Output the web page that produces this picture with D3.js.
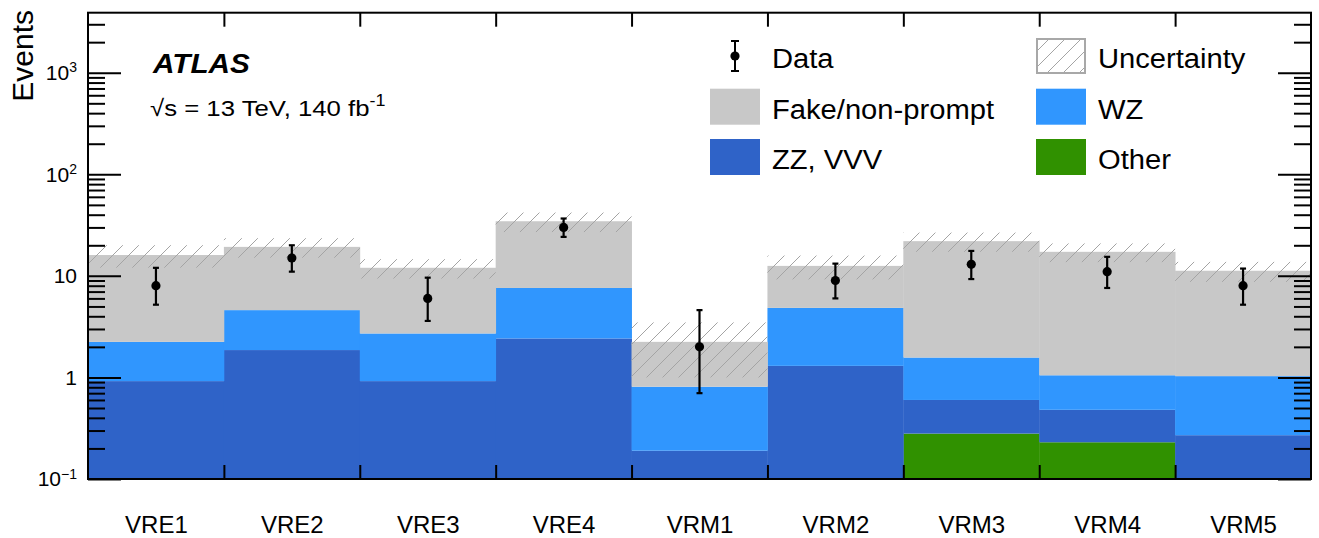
<!DOCTYPE html>
<html>
<head>
<meta charset="utf-8">
<script src="https://cdn.jsdelivr.net/npm/d3@7"></script>
<style>
body { margin: 0; background: #fff; }
text { font-family: "Liberation Sans", Arial, Helvetica, sans-serif; }
</style>
</head>
<body>
<script>
// regions and stacked backgrounds (events per region)
const categories = ["VRE1", "VRE2", "VRE3", "VRE4", "VRM1", "VRM2", "VRM3", "VRM4", "VRM5"];
const other = [0, 0, 0, 0, 0, 0, 0.28, 0.23, 0];
const zzvvv = [0.92, 1.86, 0.92, 2.42, 0.19, 1.30, 0.32, 0.25, 0.27];
const wz = [1.32, 2.74, 1.79, 5.18, 0.62, 3.54, 0.97, 0.57, 0.76];
const fake = [13.8, 14.7, 9.3, 26.9, 1.43, 7.7, 20.4, 16.2, 10.2];
const unc = [4.0, 4.2, 2.6, 7.5, 1.24, 3.3, 4.7, 3.6, 2.5];

// observed data with error bar ends
const data = [8, 15, 6, 30, 2, 9, 13, 11, 8];
const dataHi = [12.0, 20.0, 9.6, 36.7, 4.6, 13.2, 17.6, 15.4, 11.8];
const dataLo = [5.2, 11.0, 3.6, 24.2, 0.7, 6.0, 9.3, 7.6, 5.2];

// y ticks
const majorTicks = [0.1, 1, 10, 100, 1000];
const minorTicks = [0.2, 0.3, 0.4, 0.5, 0.6, 0.7, 0.8, 0.9,
                    2, 3, 4, 5, 6, 7, 8, 9,
                    20, 30, 40, 50, 60, 70, 80, 90,
                    200, 300, 400, 500, 600, 700, 800, 900,
                    2000, 3000];
const yTickLabels = {0.1: ["10", "\u22121"], 1: ["1", ""], 10: ["10", ""], 100: ["10", "2"], 1000: ["10", "3"]};

let width = 1319,
    height = 538;
let pLeft = 88, pRight = 1311, pTop = 12.7, pBottom = 479;

let svg = d3.select("body")
    .append("svg")
    .attr("width", width)
    .attr("height", height);

let x = d3.scaleLinear().domain([0, categories.length]).range([pLeft, pRight]);
let y = d3.scaleLog().domain([0.1, 3900]).range([pBottom, pTop]).clamp(true);
let yv = v => y(Math.max(v, 0.1));

// hatch pattern for the uncertainty band
let pat = svg.append("defs").append("pattern")
    .attr("id", "hatch")
    .attr("patternUnits", "userSpaceOnUse")
    .attr("width", 16)
    .attr("height", 16);
pat.append("path")
    .attr("d", "M0,16 L16,0 M-4,4 L4,-4 M12,20 L20,12")
    .attr("stroke", "#a4a4a4")
    .attr("stroke-width", 1);

// stacked histogram
let rows = categories.map((c, i) => ({other: other[i], zz: zzvvv[i], wz: wz[i], fake: fake[i]}));
let stacked = d3.stack().keys(["other", "zz", "wz", "fake"])(rows);
let colors = {other: "#309100", zz: "#2f63c8", wz: "#3096fe", fake: "#c8c8c8"};

svg.append("g")
    .selectAll("g")
    .data(stacked)
    .join("g")
    .attr("fill", d => colors[d.key])
    .selectAll("rect")
    .data(d => d)
    .join("rect")
    .attr("x", (d, i) => x(i))
    .attr("width", x(1) - x(0) + 0.4)
    .attr("y", d => yv(d[1]))
    .attr("height", d => yv(d[0]) - yv(d[1]));

// uncertainty band
let totals = rows.map(r => r.other + r.zz + r.wz + r.fake);
svg.append("g")
    .selectAll("rect")
    .data(totals)
    .join("rect")
    .attr("x", (d, i) => x(i))
    .attr("width", x(1) - x(0))
    .attr("y", (d, i) => yv(d + unc[i]))
    .attr("height", (d, i) => yv(d - unc[i]) - yv(d + unc[i]))
    .attr("fill", "url(#hatch)");

// data points
let pts = svg.append("g");
pts.selectAll("line.bar")
    .data(data)
    .join("line")
    .attr("class", "bar")
    .attr("x1", (d, i) => x(i + 0.5))
    .attr("x2", (d, i) => x(i + 0.5))
    .attr("y1", (d, i) => yv(dataHi[i]))
    .attr("y2", (d, i) => yv(dataLo[i]))
    .attr("stroke", "black")
    .attr("stroke-width", 2.2);
[dataHi, dataLo].forEach(arr => {
    pts.append("g")
        .selectAll("line")
        .data(arr)
        .join("line")
        .attr("x1", (d, i) => x(i + 0.5) - 3)
        .attr("x2", (d, i) => x(i + 0.5) + 3)
        .attr("y1", d => yv(d))
        .attr("y2", d => yv(d))
        .attr("stroke", "black")
        .attr("stroke-width", 2.2);
});
pts.selectAll("circle")
    .data(data)
    .join("circle")
    .attr("cx", (d, i) => x(i + 0.5))
    .attr("cy", d => yv(d))
    .attr("r", 4.6)
    .attr("fill", "black");

// axes
function styleAxis(g) {
    g.select(".domain").remove();
    g.selectAll(".tick line").attr("stroke", "black").attr("stroke-width", 2);
}

let gyl = svg.append("g")
    .attr("transform", `translate(${pLeft},0)`)
    .call(d3.axisLeft(y).tickValues(majorTicks).tickSize(-33).tickPadding(11))
    .call(styleAxis)
    .attr("font-size", 21);
gyl.selectAll(".tick text")
    .attr("fill", "black")
    .each(function(d) {
        let t = d3.select(this);
        let lab = yTickLabels[d];
        t.text(lab[0]);
        if (lab[1]) {
            t.append("tspan").attr("dy", "-0.55em").attr("font-size", 14).text(lab[1]);
        }
    });
svg.append("g")
    .attr("transform", `translate(${pLeft},0)`)
    .call(d3.axisLeft(y).tickValues(minorTicks).tickSize(-17).tickFormat(""))
    .call(styleAxis);
svg.append("g")
    .attr("transform", `translate(${pRight},0)`)
    .call(d3.axisRight(y).tickValues(majorTicks).tickSize(-33).tickFormat(""))
    .call(styleAxis);
svg.append("g")
    .attr("transform", `translate(${pRight},0)`)
    .call(d3.axisRight(y).tickValues(minorTicks).tickSize(-17).tickFormat(""))
    .call(styleAxis);

let edges = d3.range(1, categories.length);
svg.append("g")
    .attr("transform", `translate(0,${pBottom})`)
    .call(d3.axisBottom(x).tickValues(edges).tickSize(-14).tickFormat(""))
    .call(styleAxis);
svg.append("g")
    .attr("transform", `translate(0,${pTop})`)
    .call(d3.axisTop(x).tickValues(edges).tickSize(-14).tickFormat(""))
    .call(styleAxis);
svg.append("g")
    .attr("transform", `translate(0,${pBottom})`)
    .call(d3.axisBottom(x).tickValues(categories.map((c, i) => i + 0.5)).tickSize(0).tickPadding(37)
        .tickFormat(d => categories[Math.floor(d)]))
    .call(styleAxis)
    .attr("font-size", 24)
    .selectAll("text").attr("fill", "black");

// frame
svg.append("rect")
    .attr("x", pLeft)
    .attr("y", pTop)
    .attr("width", pRight - pLeft)
    .attr("height", pBottom - pTop)
    .attr("fill", "none")
    .attr("stroke", "black")
    .attr("stroke-width", 2);

// axis title
svg.append("text")
    .attr("transform", "translate(33,10) rotate(-90)")
    .attr("text-anchor", "end")
    .attr("font-size", 30)
    .text("Events");

// labels (stretched slightly like the original)
function label(x0, y0, sx, size, str) {
    return svg.append("text")
        .attr("transform", `translate(${x0},${y0}) scale(${sx},1)`)
        .attr("font-size", size)
        .text(str);
}
label(153, 73, 1.1, 27, "ATLAS")
    .attr("font-weight", "bold")
    .attr("font-style", "italic");
let lumi = label(150, 116, 1.12, 23, "\u221As = 13 TeV, 140 fb");
lumi.append("tspan").attr("dy", -10).attr("font-size", 16).text("-1");

// legend
let legendItems = [
    {name: "Data", type: "data", col: 0, row: 0},
    {name: "Uncertainty", type: "unc", col: 1, row: 0},
    {name: "Fake/non-prompt", type: "box", fill: colors.fake, col: 0, row: 1},
    {name: "WZ", type: "box", fill: colors.wz, col: 1, row: 1},
    {name: "ZZ, VVV", type: "box", fill: colors.zz, col: 0, row: 2},
    {name: "Other", type: "box", fill: colors.other, col: 1, row: 2}
];
let colX = [710, 1036], rowY = [56, 106.7, 157];

legendItems.forEach(it => {
    let bx = colX[it.col], cy = rowY[it.row];
    if (it.type == "data") {
        let cx = bx + 25;
        svg.append("line").attr("x1", cx).attr("x2", cx).attr("y1", cy - 15).attr("y2", cy + 15)
            .attr("stroke", "black").attr("stroke-width", 2);
        [cy - 15, cy + 15].forEach(yy => {
            svg.append("line").attr("x1", cx - 4).attr("x2", cx + 4).attr("y1", yy).attr("y2", yy)
                .attr("stroke", "black").attr("stroke-width", 2);
        });
        svg.append("circle").attr("cx", cx).attr("cy", cy).attr("r", 4.6).attr("fill", "black");
    } else if (it.type == "unc") {
        svg.append("rect").attr("x", bx + 1).attr("y", cy - 17).attr("width", 48).attr("height", 34)
            .attr("fill", "url(#hatch)").attr("stroke", "#a8a8a8").attr("stroke-width", 2);
    } else {
        svg.append("rect").attr("x", bx).attr("y", cy - 18).attr("width", 50).attr("height", 36)
            .attr("fill", it.fill);
    }
    label(bx + 62, cy + 12, 1.08, 27, it.name);
});
</script>
</body>
</html>
